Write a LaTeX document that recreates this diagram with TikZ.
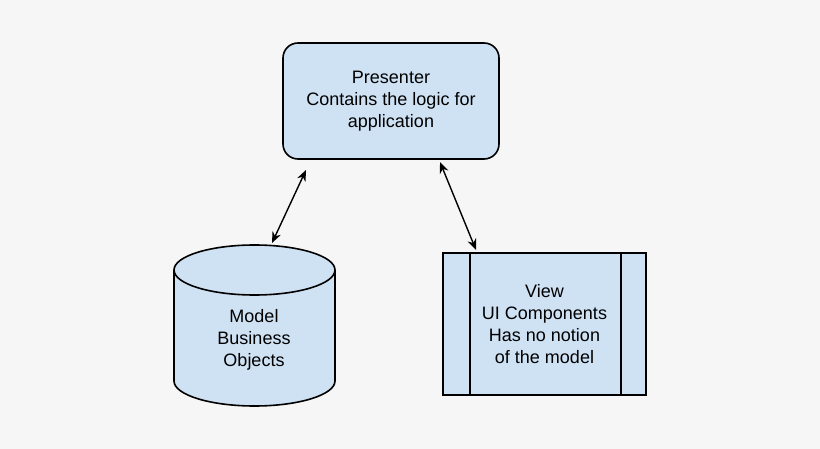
\documentclass[tikz,border=0pt]{standalone}
\usepackage{fontspec}
\setmainfont{Liberation Sans}
\usetikzlibrary{arrows.meta}
\definecolor{bfill}{HTML}{CFE2F3}
\definecolor{bg}{HTML}{F6F6F6}
\begin{document}
\begin{tikzpicture}[x=1pt,y=-1pt,
  shp/.style={draw=black,line width=1.6pt,fill=bfill},
  txt/.style={align=center,font=\fontsize{18}{22}\selectfont},
  arr/.style={{Stealth[length=11pt,width=9pt]}-{Stealth[length=11pt,width=9pt]},line width=1.4pt}]
\fill[bg] (0,0) rectangle (820,449);
\useasboundingbox (0,0) rectangle (820,449);
% presenter
\node[shp,rounded corners=15pt,minimum width=216pt,minimum height=116pt,txt] (p) at (391,101) {Presenter\\Contains the logic for\\application};
% model cylinder
\path[shp] (174,270) -- (174,381) arc[start angle=180,end angle=360,x radius=80.5pt,y radius=25pt] -- (335,270) arc[start angle=0,end angle=180,x radius=80.5pt,y radius=25pt] -- cycle;
\draw[line width=1.6pt] (174,270) arc[start angle=180,end angle=360,x radius=80.5pt,y radius=25pt];
\node[txt] (m) at (254,340) {Model\\Business\\Objects};
% view
\node[shp,minimum width=203pt,minimum height=142pt,txt] (v) at (544.5,324) {View\\UI Components\\Has no notion\\of the model};
\draw[line width=1.6pt] (470,253) -- (470,395) (621,253) -- (621,395);
\coordinate (a1) at (306,170); \coordinate (a2) at (272,243);
\coordinate (b1) at (440,162); \coordinate (b2) at (476,250);
\draw[arr] (a1) -- (a2);
\draw[arr] (b1) -- (b2);
\end{tikzpicture}
\end{document}
